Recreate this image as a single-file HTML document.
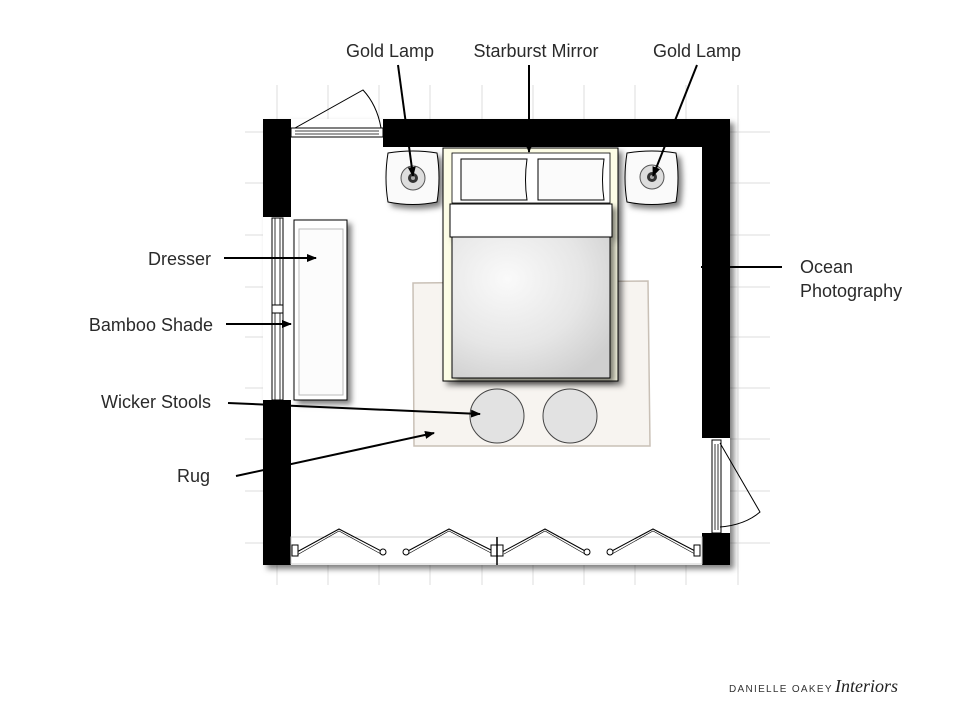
<!DOCTYPE html>
<html><head><meta charset="utf-8"><style>
html,body{margin:0;padding:0;background:#fff;}
svg{display:block;}
text{font-family:"Liberation Sans",sans-serif;font-size:18px;fill:#2a2a2a;}
</style></head><body>
<svg width="967" height="714" viewBox="0 0 967 714" xmlns="http://www.w3.org/2000/svg">
<defs>
<marker id="ah" markerWidth="10" markerHeight="8" refX="9" refY="4" orient="auto" markerUnits="userSpaceOnUse">
<path d="M0,0 L10,4 L0,8 Z" fill="#000"/></marker>
<radialGradient id="duv" cx="0.35" cy="0.3" r="0.8"><stop offset="0" stop-color="#fafafa"/><stop offset="0.6" stop-color="#e6e6e6"/><stop offset="1" stop-color="#cfcfcf"/></radialGradient>
<filter id="sh" x="-20%" y="-20%" width="150%" height="150%"><feDropShadow dx="4" dy="4" stdDeviation="3" flood-color="#000" flood-opacity="0.5"/></filter>
</defs>
<!-- grid -->
<g stroke="#ddd" stroke-width="1">
<line x1="277" y1="85" x2="277" y2="585"/><line x1="328" y1="85" x2="328" y2="585"/><line x1="379" y1="85" x2="379" y2="585"/><line x1="430" y1="85" x2="430" y2="585"/><line x1="482" y1="85" x2="482" y2="585"/><line x1="533" y1="85" x2="533" y2="585"/><line x1="584" y1="85" x2="584" y2="585"/><line x1="635" y1="85" x2="635" y2="585"/><line x1="686" y1="85" x2="686" y2="585"/><line x1="738" y1="85" x2="738" y2="585"/>
<line x1="245" y1="132" x2="770" y2="132"/><line x1="245" y1="183" x2="770" y2="183"/><line x1="245" y1="235" x2="770" y2="235"/><line x1="245" y1="287" x2="770" y2="287"/><line x1="245" y1="337" x2="770" y2="337"/><line x1="245" y1="388" x2="770" y2="388"/><line x1="245" y1="439" x2="770" y2="439"/><line x1="245" y1="491" x2="770" y2="491"/><line x1="245" y1="543" x2="770" y2="543"/>
</g>
<!-- room floor -->
<rect x="263" y="119" width="467" height="446" fill="#fff" filter="url(#sh)"/>
<rect x="263" y="119" width="467" height="446" fill="#fff"/>
<!-- walls -->
<g fill="#000">
<rect x="383" y="119" width="347" height="28"/>
<rect x="702" y="119" width="28" height="319"/>
<rect x="702" y="533" width="28" height="32"/>
<rect x="263" y="119" width="28" height="98"/>
<rect x="263" y="400" width="28" height="165"/>
</g>
<!-- bottom strip -->
<rect x="291" y="537" width="411" height="27" fill="#fff" stroke="#ccc" stroke-width="1"/>
<!-- top door/window -->
<rect x="291" y="128" width="92" height="9" fill="#fff" stroke="#000" stroke-width="1"/>
<line x1="295" y1="131" x2="379" y2="131" stroke="#000" stroke-width="0.8"/>
<line x1="295" y1="134" x2="379" y2="134" stroke="#000" stroke-width="0.8"/>
<path d="M295,128 L363,90 Q377,105 381,128" fill="none" stroke="#000" stroke-width="1"/>
<!-- left window -->
<rect x="272" y="218" width="11" height="182" fill="#fff" stroke="#000" stroke-width="1"/>
<line x1="275" y1="218" x2="275" y2="400" stroke="#000" stroke-width="0.8"/>
<line x1="280" y1="218" x2="280" y2="400" stroke="#000" stroke-width="0.8"/>
<rect x="272" y="305" width="11" height="8" fill="#fff" stroke="#000" stroke-width="1"/>
<!-- right door -->
<rect x="712" y="440" width="9" height="93" fill="#fff" stroke="#000" stroke-width="1"/>
<line x1="715" y1="444" x2="715" y2="530" stroke="#000" stroke-width="0.8"/>
<line x1="718" y1="444" x2="718" y2="530" stroke="#000" stroke-width="0.8"/>
<path d="M720,443 L760,512 Q745,525 720,527" fill="none" stroke="#000" stroke-width="1"/>
<!-- bottom folding doors -->
<g fill="none" stroke="#000" stroke-width="1">
<path d="M295,553 L339,529 L383,552"/><path d="M297,555 L339,531 L381,554" stroke-width="0.6"/>
<path d="M406,552 L449,529 L495,552"/><path d="M408,554 L449,531 L493,554" stroke-width="0.6"/>
<path d="M502,552 L545,529 L587,552"/><path d="M504,554 L545,531 L585,554" stroke-width="0.6"/>
<path d="M610,552 L653,529 L697,552"/><path d="M612,554 L653,531 L695,554" stroke-width="0.6"/>
<circle cx="383" cy="552" r="3" fill="#fff"/><circle cx="406" cy="552" r="3" fill="#fff"/>
<circle cx="587" cy="552" r="3" fill="#fff"/><circle cx="610" cy="552" r="3" fill="#fff"/>
<rect x="292" y="545" width="6" height="11" fill="#fff"/><rect x="491" y="545" width="12" height="11" fill="#fff"/><rect x="694" y="545" width="6" height="11" fill="#fff"/>
<line x1="497" y1="537" x2="497" y2="565" stroke-width="1.5"/>
</g>
<!-- rug -->
<path d="M413,283 L648,281 L650,446 L414,446 Z" fill="#f7f4f0" stroke="#c9c0b6" stroke-width="1.5"/>
<!-- dresser -->
<rect x="294" y="220" width="53" height="180" fill="#fff" stroke="#000" stroke-width="1" filter="url(#sh)"/>
<rect x="299" y="229" width="44" height="166" fill="#fcfcfc" stroke="#bbb" stroke-width="1"/>
<!-- nightstands -->
<g filter="url(#sh)">
<path d="M388,153 Q413,149 437,153 Q441,178 437,202 Q413,207 388,202 Q384,178 388,153 Z" fill="#fafafa" stroke="#000" stroke-width="1"/>
<path d="M627,153 Q652,149 676,153 Q680,178 676,202 Q652,207 627,202 Q623,178 627,153 Z" fill="#fafafa" stroke="#000" stroke-width="1"/>
</g>
<circle cx="413" cy="178" r="12" fill="#ddd" stroke="#555"/><circle cx="413" cy="178" r="5" fill="#333"/><circle cx="413" cy="178" r="2" fill="#aaa"/>
<circle cx="652" cy="177" r="12" fill="#ddd" stroke="#555"/><circle cx="652" cy="177" r="5" fill="#333"/><circle cx="652" cy="177" r="2" fill="#aaa"/>
<!-- bed -->
<rect x="443" y="148" width="175" height="233" fill="#fdfde6" stroke="#000" stroke-width="1" filter="url(#sh)"/>
<rect x="452" y="153" width="158" height="50" fill="#fff" stroke="#000" stroke-width="0.8"/>
<path d="M461,159 L527,159 Q524,180 527,200 L461,200 Z" fill="#fbfbfb" stroke="#000"/>
<path d="M538,159 L604,159 Q601,180 604,200 L538,200 Z" fill="#fbfbfb" stroke="#000"/>
<rect x="450" y="204" width="162" height="33" fill="#fff" stroke="#000" filter="url(#sh)"/>
<rect x="452" y="237" width="158" height="141" fill="url(#duv)" stroke="#000" filter="url(#sh)"/>
<!-- stools -->
<circle cx="497" cy="416" r="27" fill="#e2e2e2" stroke="#444"/>
<circle cx="570" cy="416" r="27" fill="#e2e2e2" stroke="#444"/>
<!-- leaders -->
<g stroke="#000" stroke-width="2" fill="none">
<line x1="398" y1="65" x2="413" y2="176" marker-end="url(#ah)"/>
<line x1="529" y1="65" x2="529" y2="152" marker-end="url(#ah)"/>
<line x1="697" y1="65" x2="653" y2="176" marker-end="url(#ah)"/>
<line x1="224" y1="258" x2="316" y2="258" marker-end="url(#ah)"/>
<line x1="226" y1="324" x2="291" y2="324" marker-end="url(#ah)"/>
<line x1="228" y1="403" x2="480" y2="414" marker-end="url(#ah)"/>
<line x1="236" y1="476" x2="434" y2="433" marker-end="url(#ah)"/>
<line x1="701" y1="267" x2="782" y2="267"/>
</g>
<!-- labels -->
<text x="390" y="57" text-anchor="middle">Gold Lamp</text>
<text x="536" y="57" text-anchor="middle">Starburst Mirror</text>
<text x="697" y="57" text-anchor="middle">Gold Lamp</text>
<text x="211" y="265" text-anchor="end">Dresser</text>
<text x="213" y="331" text-anchor="end">Bamboo Shade</text>
<text x="211" y="408" text-anchor="end">Wicker Stools</text>
<text x="210" y="482" text-anchor="end">Rug</text>
<text x="800" y="273">Ocean</text>
<text x="800" y="297">Photography</text>
<text x="729" y="692" style="font-size:10px;letter-spacing:1.3px;fill:#333">DANIELLE OAKEY</text>
<text x="835" y="692" style="font-family:'Liberation Serif',serif;font-style:italic;font-size:18px;fill:#222">Interiors</text>
</svg>
</body></html>
